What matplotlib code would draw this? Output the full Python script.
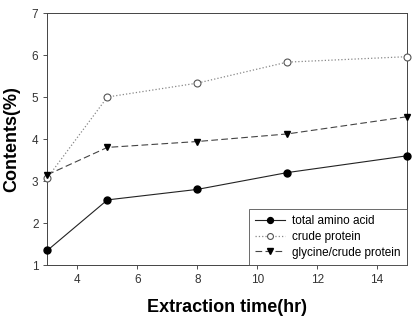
import matplotlib
matplotlib.use('Agg')
import matplotlib.pyplot as plt

plt.rcParams['font.family'] = ['Liberation Sans', 'DejaVu Sans']

# extraction time (hr)
hours = [3, 5, 8, 11, 15]
total_amino = [1.35, 2.55, 2.8, 3.2, 3.6]
crude_protein = [3.08, 5.0, 5.33, 5.83, 5.96]
glycine_ratio = [3.15, 3.8, 3.94, 4.12, 4.53]

fig = plt.figure(figsize=(4.14, 3.23), dpi=100)
ax = fig.add_axes([47.5/414, 1 - 265/323, (407 - 47.5)/414, (265 - 13)/323])

ax.plot(hours, total_amino, '-', color='#222222', lw=0.8, marker='o',
        ms=5, mfc='black', mec='black', label='total amino acid', clip_on=False, zorder=3)
ax.plot(hours, crude_protein, ':', color='#888888', lw=0.9, marker='o',
        ms=5, mfc='white', mec='#555555', mew=0.8, label='crude protein', clip_on=False, zorder=3)
ax.plot(hours, glycine_ratio, '--', color='#444444', lw=0.8, marker='v',
        ms=5, mfc='black', mec='black', dashes=(6, 3), label='glycine/crude protein',
        clip_on=False, zorder=3)

ax.set_xlim(3, 15)
ax.set_ylim(1, 7)
ax.set_xticks([4, 6, 8, 10, 12, 14])
ax.set_yticks([1, 2, 3, 4, 5, 6, 7])
ax.tick_params(direction='out', length=3, width=0.6, labelsize=8.5, colors='#333333')
for s in ax.spines.values():
    s.set_linewidth(0.7)
    s.set_color('#444444')

ax.set_xlabel('Extraction time(hr)', fontsize=13, fontweight='bold', labelpad=9)
ax.set_ylabel('Contents(%)', fontsize=13, fontweight='bold', labelpad=8)

leg = ax.legend(loc='lower right', fontsize=8.5, frameon=True, fancybox=False,
                borderaxespad=0, handlelength=2.5, handletextpad=0.6, borderpad=0.55,
                labelspacing=0.3, markerscale=0.85)
leg.get_frame().set_edgecolor('#444444')
leg.get_frame().set_linewidth(0.7)

fig.savefig('out.png', dpi=100)
